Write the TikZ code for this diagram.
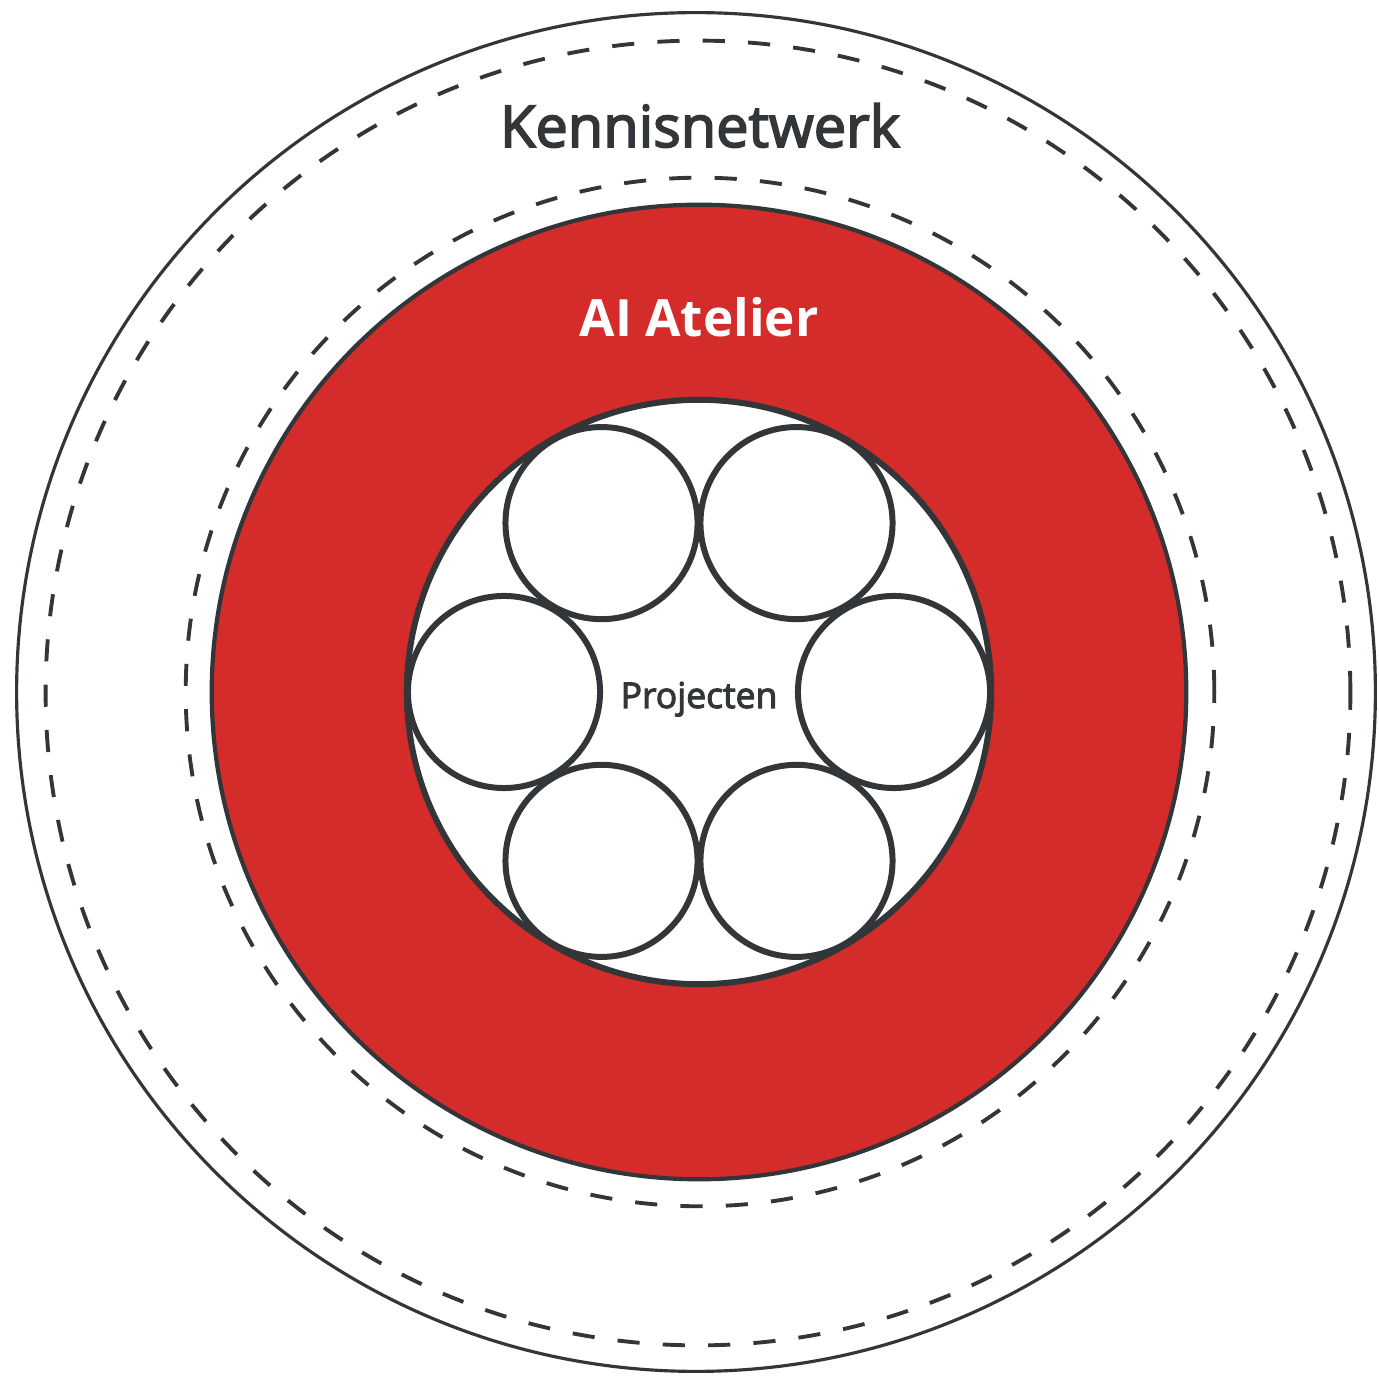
\documentclass[tikz,border=0pt]{standalone}
\usepackage{fontspec}
\setmainfont{Open Sans}
\newfontfamily\semibfont{Open Sans}[FakeBold=3]
\definecolor{ink}{HTML}{333638}
\definecolor{atelierred}{HTML}{D42B2B}
\begin{document}
\begin{tikzpicture}[x=0.01cm,y=-0.01cm,
  ring/.style={circle,draw=ink,inner sep=0pt,outer sep=0pt},
  dashring/.style={ring,line width=1.1pt,dash pattern=on 6.3pt off 6.6pt},
  project/.style={ring,fill=white,line width=1.7pt,minimum size=1.92cm},
  label/.style={anchor=base,inner sep=0pt,text=ink}]
\useasboundingbox[fill=white] (0,0) rectangle (1379,1377);
\node[ring,line width=0.9pt,minimum size=13.58cm] (outer) at (696,692) {};
\node[dashring,minimum size=13.04cm] (netdash) at (698,693) {};
\node[dashring,minimum size=10.28cm] (ateldash) at (700,692) {};
\node[ring,fill=atelierred,line width=1.2pt,minimum size=9.74cm] (atelier) at (699,692) {};
\node[ring,fill=white,line width=1.7pt,minimum size=5.84cm] (core) at (699,692) {};
\foreach \a [count=\i] in {0,60,120,180,240,300}
  \node[project] (p\i) at ({699+195*cos(\a)},{692-195*sin(\a)}) {};
\node[label,font=\semibfont\fontsize{16.4}{19}\selectfont] (kn) at (700,147) {Kennisnetwerk};
\node[label,text=white,font=\bfseries\fontsize{14.6}{17}\selectfont] (ai) at (699,337) {AI Atelier};
\node[label,font=\semibfont\fontsize{10.1}{12}\selectfont] (proj) at (699,708) {Projecten};
\end{tikzpicture}
\end{document}
